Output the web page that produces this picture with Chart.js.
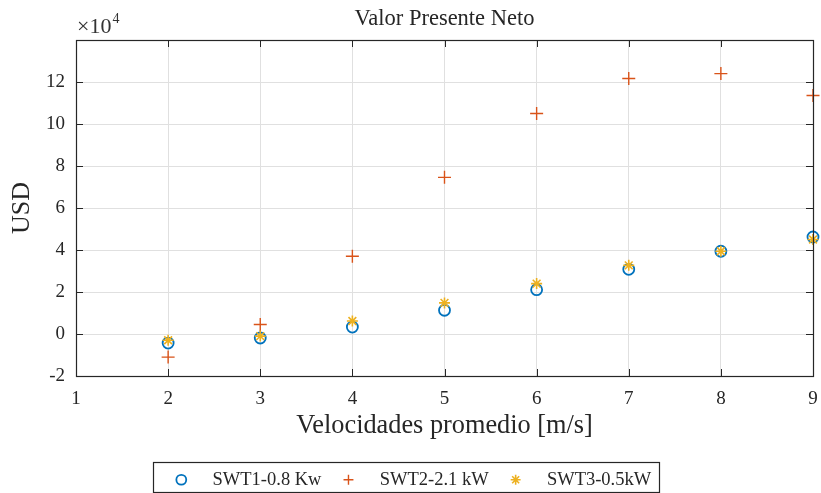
<!DOCTYPE html>
<html>
<head>
<meta charset="utf-8">
<script src="https://cdn.jsdelivr.net/npm/chart.js@4"></script>
<style>
  html, body { margin: 0; padding: 0; background: #fff; }
  #wrap { width: 821px; height: 493px; }
</style>
</head>
<body>
<div id="wrap"><canvas id="vpn"></canvas></div>
<script>
// velocidades promedio [m/s]
var velocidades = [2, 3, 4, 5, 6, 7, 8, 9];
// valor presente neto, USD
var swt1 = [-4300, -1900, 3300, 11300, 21100, 30800, 39400, 46200];
var swt2 = [-11000, 4500, 37000, 74600, 105000, 121700, 124000, 113600];
var swt3 = [-3000, -1000, 6200, 14800, 24000, 32700, 39400, 45000];
var yTicks = [-2, 0, 2, 4, 6, 8, 10, 12];

var serif = "'Liberation Serif', 'DejaVu Serif', serif";
var negro = '#262626';

function pts(ys) {
    return velocidades.map(function (v, i) { return { x: v, y: ys[i] }; });
}

// recuadro de ejes, marcas internas, factor x10^4 y marco de la leyenda
var ejesMatlab = {
    id: 'ejesMatlab',
    afterUpdate: function (chart) {
        // centrar el título sobre el área de ejes y desplazar la leyenda
        var a = chart.chartArea;
        var t = chart.titleBlock;
        if (t) {
            var dx = (a.left + a.right) / 2 - (t.left + t.right) / 2;
            t.left += dx; t.right += dx;
        }
        var lg = chart.legend;
        if (lg) {
            lg.left += 8; lg.right += 8;
            lg.legendHitBoxes.forEach(function (h) { h.left += 8; });
        }
    },
    afterDraw: function (chart) {
        var c = chart.ctx, a = chart.chartArea;
        var xs = chart.scales.x, ys = chart.scales.y;
        c.save();
        c.strokeStyle = negro;
        c.lineWidth = 1;
        c.beginPath();
        for (var v = 1; v <= 9; v++) {
            var px = Math.round(xs.getPixelForValue(v)) + 0.5;
            c.moveTo(px, a.bottom); c.lineTo(px, a.bottom - 7);
            c.moveTo(px, a.top); c.lineTo(px, a.top + 7);
        }
        yTicks.forEach(function (t) {
            var py = Math.round(ys.getPixelForValue(t * 1e4)) + 0.5;
            c.moveTo(a.left, py); c.lineTo(a.left + 7, py);
            c.moveTo(a.right, py); c.lineTo(a.right - 7, py);
        });
        c.stroke();
        c.lineWidth = 1.2;
        c.strokeRect(Math.round(a.left) + 0.5, Math.round(a.top) + 0.5,
            Math.round(a.right - a.left), Math.round(a.bottom - a.top));

        c.fillStyle = '#333';
        c.textBaseline = 'alphabetic';
        c.textAlign = 'left';
        c.font = '22px ' + serif;
        c.fillText('\u00d710', a.left + 1, a.top - 7);
        var w = c.measureText('\u00d710').width;
        c.font = '14px ' + serif;
        c.fillText('4', a.left + 2 + w, a.top - 17);

        var lg = chart.legend;
        if (lg && lg.legendHitBoxes.length) {
            var hb = lg.legendHitBoxes;
            var last = hb[hb.length - 1];
            var cy = hb[0].top + hb[0].height / 2;
            var l = hb[0].left + 3.5 - 28, r = last.left + last.width + 8;
            c.strokeStyle = negro;
            c.lineWidth = 1.2;
            c.strokeRect(Math.round(l) + 0.5, Math.round(cy - 17.5) + 0.5, Math.round(r - l), 30);
        }
        c.restore();
    }
};

new Chart(document.getElementById('vpn').getContext('2d'), {
    type: 'scatter',
    data: {
        datasets: [{
            label: 'SWT1-0.8 Kw',
            data: pts(swt1),
            pointStyle: 'circle',
            pointRadius: 5.5,
            pointHoverRadius: 5.5,
            borderColor: '#0072BD',
            backgroundColor: 'rgba(0,0,0,0)',
            pointBorderWidth: 1.8,
            clip: false,
            order: 3
        }, {
            label: 'SWT2-2.1 kW',
            data: pts(swt2),
            pointStyle: 'cross',
            pointRadius: 6.5,
            pointHoverRadius: 6.5,
            borderColor: '#D95319',
            backgroundColor: '#D95319',
            pointBorderWidth: 1.4,
            clip: false,
            order: 2
        }, {
            label: 'SWT3-0.5kW',
            data: pts(swt3),
            pointStyle: 'star',
            pointRadius: 5.5,
            pointHoverRadius: 5.5,
            borderColor: '#EDB120',
            backgroundColor: '#EDB120',
            pointBorderWidth: 1.6,
            clip: false,
            order: 1
        }]
    },
    options: {
        responsive: true,
        maintainAspectRatio: false,
        animation: false,
        layout: { padding: { left: 0, right: 8, top: 0, bottom: -6 } },
        plugins: {
            title: {
                display: true,
                text: 'Valor Presente Neto',
                color: negro,
                font: { family: serif, size: 22.5, weight: 'normal' },
                padding: { top: 6, bottom: 7 }
            },
            legend: {
                position: 'bottom',
                labels: {
                    usePointStyle: true,
                    color: negro,
                    font: { family: serif, size: 18.5 },
                    padding: 23.5,
                    boxWidth: 7,
                    boxHeight: 7,
                    sort: function (a, b) { return a.datasetIndex - b.datasetIndex; },
                    generateLabels: function (chart) {
                        var items = Chart.defaults.plugins.legend.labels.generateLabels(chart);
                        items.forEach(function (it) { it.text = '\u2002\u2002' + it.text; });
                        return items;
                    }
                }
            },
            tooltip: { enabled: false }
        },
        scales: {
            x: {
                type: 'linear',
                min: 1,
                max: 9,
                afterFit: function (s) { s.height = 71; s.paddingRight = 8; },
                ticks: {
                    stepSize: 1,
                    color: negro,
                    padding: 12,
                    font: { family: serif, size: 19 }
                },
                grid: { color: '#e0e0e0', drawTicks: false },
                border: { display: false },
                title: {
                    display: true,
                    text: 'Velocidades promedio [m/s]',
                    color: negro,
                    font: { family: serif, size: 26.3 },
                    padding: { top: 2, bottom: 5 }
                }
            },
            y: {
                min: -20000,
                max: 140000,
                afterFit: function (s) { s.width = 76; },
                ticks: {
                    stepSize: 20000,
                    color: negro,
                    padding: 11,
                    font: { family: serif, size: 19 },
                    callback: function (v) {
                        var t = v / 1e4;
                        return yTicks.indexOf(t) >= 0 ? String(t) : '';
                    }
                },
                grid: { color: '#e0e0e0', drawTicks: false },
                border: { display: false },
                title: {
                    display: true,
                    text: 'USD',
                    color: negro,
                    font: { family: serif, size: 26 },
                    padding: { top: 7, bottom: 0 }
                }
            }
        }
    },
    plugins: [ejesMatlab]
});
</script>
</body>
</html>
